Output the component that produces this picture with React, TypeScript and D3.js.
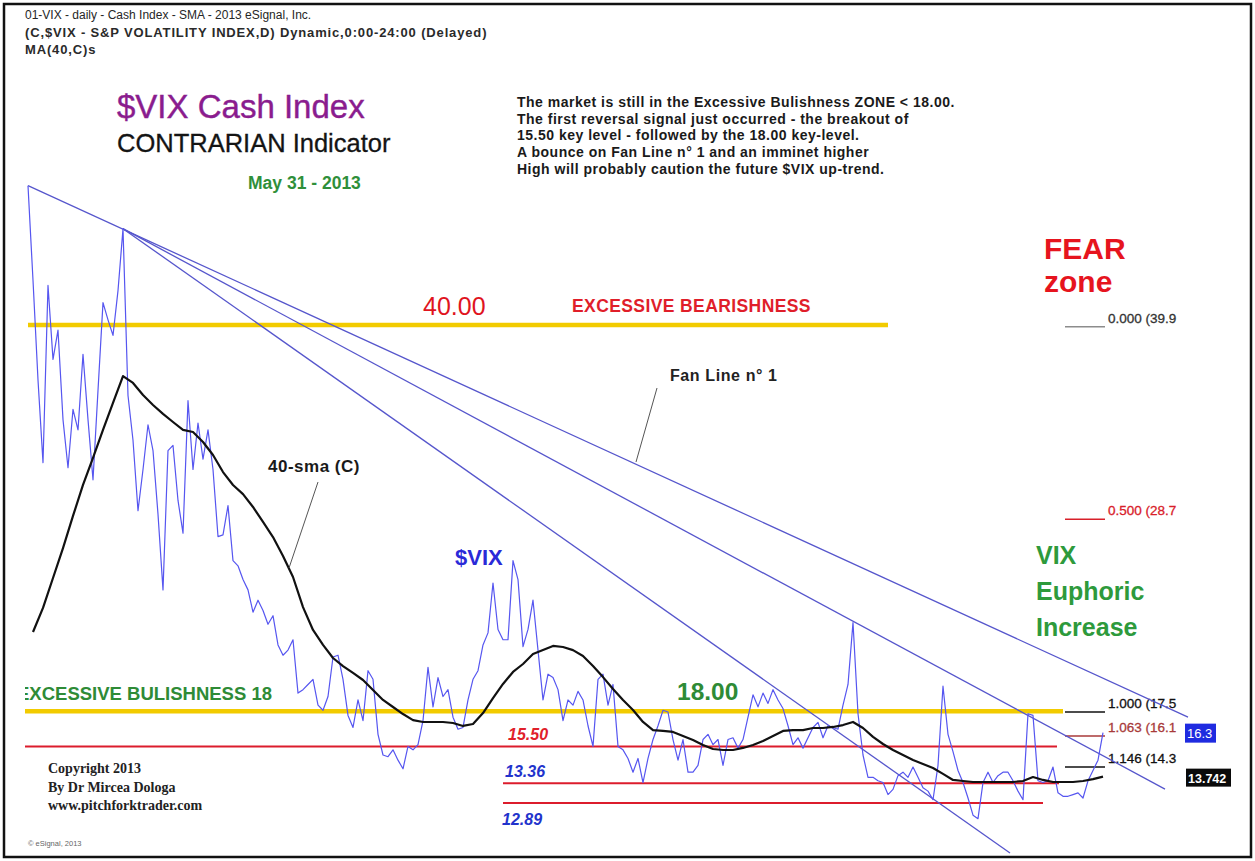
import React from "react";
import * as d3 from "d3";

// ---------- DATA ----------
// $VIX daily close, sampled about every 2 trading days (Aug 2011 -> May 31 2013)
const vixValues: number[] = [
  48.1, 42.6, 36.8, 32.0, 42.3, 38.0, 39.7, 34.5, 31.7, 35.1,
  33.9, 38.3, 34.5, 31.0, 36.2, 41.3, 40.3, 39.4, 42.0, 45.6,
  35.9, 33.3, 29.2, 31.6, 34.2, 32.7, 29.0, 24.6, 32.7, 33.0,
  29.8, 27.9, 35.6, 31.6, 34.3, 32.2, 33.9, 31.6, 27.7, 27.8,
  29.5, 26.3, 26.0, 25.2, 24.6, 23.3, 24.0, 23.4, 22.6, 23.1,
  21.4, 20.8, 21.1, 21.7, 18.6, 18.8, 19.1, 19.4, 17.9, 17.6,
  18.4, 20.7, 20.8, 19.4, 17.3, 16.6, 18.2, 17.0, 19.9, 19.4,
  16.2, 15.0, 14.9, 15.3, 14.7, 14.2, 15.5, 15.3, 15.6, 17.0,
  20.1, 17.8, 19.5, 18.4, 18.8, 17.2, 16.5, 16.6, 18.2, 19.4,
  19.9, 21.4, 22.1, 25.0, 22.3, 21.7, 21.7, 26.3, 25.2, 21.3,
  22.3, 24.0, 21.1, 18.2, 19.7, 19.5, 18.8, 17.0, 18.2, 17.9,
  18.7, 18.2, 16.7, 15.5, 19.4, 19.7, 17.9, 19.1, 15.5, 15.3,
  14.8, 14.0, 14.8, 13.4, 14.8, 15.9, 16.7, 17.6, 17.5, 15.9,
  14.7, 15.9, 14.0, 14.0, 14.4, 15.9, 16.2, 15.6, 15.9, 14.4,
  15.9, 16.0, 15.4, 15.9, 17.2, 18.5, 17.8, 18.6, 18.0, 18.8,
  18.2, 17.7, 16.7, 15.6, 16.0, 15.4, 16.0, 16.6, 16.9, 16.0,
  16.7, 16.6, 16.5, 17.9, 19.1, 22.7, 17.4, 15.0, 13.7, 13.7,
  13.5, 13.4, 12.7, 13.0, 13.8, 14.0, 13.7, 14.3, 13.7, 13.1,
  12.9, 12.4, 14.4, 19.0, 16.2, 15.2, 14.1, 13.4, 12.5, 11.5,
  11.3, 13.4, 14.0, 13.4, 13.8, 14.0, 14.0, 13.5, 12.9, 12.4,
  17.4, 17.3, 13.5, 13.4, 13.5, 14.3, 12.8, 12.6, 12.6, 12.7,
  12.8, 12.5, 13.5, 14.1, 14.7, 16.3,
];

// 40-day SMA, read at every second sample (sample indices 1, 3, 5, ...)
const smaStartIndex = 1;
const smaIndexStep = 2;
const smaValues: number[] = [
  22.15, 23.55, 25.29, 27.03, 28.9, 30.7, 32.27, 33.9, 35.47, 37.03,
  36.63, 35.93, 35.35, 34.83, 34.36, 33.9, 33.78, 33.2, 32.44, 31.45,
  30.7, 30.17, 29.42, 28.55, 27.67, 26.57, 25.35, 23.6, 22.27, 21.4,
  20.64, 20.17, 19.77, 19.36, 18.78, 18.2, 17.79, 17.38, 17.03, 16.92,
  16.92, 16.92, 16.86, 16.69, 16.8, 17.44, 18.31, 19.13, 19.83, 20.29,
  20.87, 21.1, 21.34, 21.28, 21.1, 20.76, 20.17, 19.53, 18.84, 18.2,
  17.62, 16.92, 16.45, 16.4, 16.34, 16.1, 15.87, 15.58, 15.35, 15.29,
  15.29, 15.41, 15.58, 15.81, 16.1, 16.4, 16.45, 16.45, 16.57, 16.57,
  16.63, 16.74, 16.92, 16.57, 16.05, 15.64, 15.29, 15.0, 14.71, 14.48,
  14.24, 13.9, 13.55, 13.49, 13.43, 13.43, 13.43, 13.43, 13.43, 13.49,
  13.72, 13.55, 13.43, 13.43, 13.43, 13.49, 13.6, 13.742,
];

// Fan lines: [sample index, value] of start and end
const fanStarts: [number, number][] = [[0, 48.1], [19, 45.6], [19, 45.6]];
const fanEnds: [number, number][] = [[232, 17.2], [227.4, 13.02], [196.4, 9.3]];

// Horizontal key levels (value, start sample, end sample)
const yellowLevelValues = [40.0, 17.55];
const yellowLevelStart = [0, -0.6];
const yellowLevelEnd = [172, 207];
const redLevelValues = [15.5, 13.36, 12.21];
const redLevelStart = [-0.6, 95, 95];
const redLevelEnd = [205.8, 206.2, 203];

// Fibonacci levels shown at the right
const fibLabels = ["0.000 (39.9", "0.500 (28.7", "1.000 (17.5", "1.063 (16.1", "1.146 (14.3"];
const fibValues = [39.9, 28.7, 17.5, 16.1, 14.3];
const fibColors = ["#8c8c8c", "#d8202a", "#111111", "#a83a3a", "#111111"];
const fibStart = 207.4;
const fibEnd = 215.4;

const lastVix = "16.3";
const lastSma = "13.742";

const headerLines = [
  "01-VIX - daily - Cash Index - SMA - 2013 eSignal, Inc.",
  "(C,$VIX - S&P VOLATILITY INDEX,D) Dynamic,0:00-24:00 (Delayed)",
  "MA(40,C)s",
];
const noteLines = [
  "The market is still in the Excessive Bulishness ZONE < 18.00.",
  "The first reversal signal just occurred - the breakout of",
  "15.50 key level - followed by the 18.00 key-level.",
  "A bounce on Fan Line n\u00b0 1 and an imminet higher",
  "High will probably caution the future $VIX up-trend.",
];
const copyrightLines = ["Copyright 2013", "By Dr Mircea Dologa", "www.pitchforktrader.com"];
const euphoricLines = ["VIX", "Euphoric", "Increase"];

const SANS = "'Liberation Sans', Arial, Helvetica, sans-serif";
const SERIF = "'Liberation Serif', 'Times New Roman', serif";

export default function App() {
  const W = 1255;
  const H = 861;
  const x = d3.scaleLinear().domain([0, vixValues.length - 1]).range([28, 1103]);
  const y = d3.scaleLinear().domain([10, 50]).range([841, 153]);

  const vixPath = d3
    .line<number>()
    .x((_, i) => x(i))
    .y((d) => y(d))(vixValues) as string;
  const smaPath = d3
    .line<number>()
    .x((_, i) => x(smaStartIndex + i * smaIndexStep))
    .y((d) => y(d))(smaValues) as string;

  return (
    <svg
      width={W}
      height={H}
      viewBox={`0 0 ${W} ${H}`}
      style={{ position: "absolute", left: 0, top: 0, background: "#fff", display: "block" }}
    >
      <defs>
        <clipPath id="leftClip">
          <rect x={25} y={0} width={W} height={H} />
        </clipPath>
        <clipPath id="fibClip">
          <rect x={0} y={0} width={1185} height={H} />
        </clipPath>
      </defs>
      <rect x={0} y={0} width={W} height={H} fill="#fff" />

      {/* header */}
      <text x={25} y={19} fontFamily={SANS} fontSize={12} fill="#262626">{headerLines[0]}</text>
      {headerLines.slice(1).map((t, i) => (
        <text key={t} x={25} y={37 + i * 16.5} fontFamily={SANS} fontSize={13} fontWeight="bold" letterSpacing={0.85} fill="#2a2a2a">
          {t}
        </text>
      ))}

      {/* titles */}
      <text x={117} y={118} fontFamily={SANS} fontSize={33} fill="#8a1c8e" stroke="#8a1c8e" strokeWidth={0.4}>$VIX Cash Index</text>
      <text x={117} y={152} fontFamily={SANS} fontSize={25.5} fill="#141414" stroke="#141414" strokeWidth={0.3}>CONTRARIAN Indicator</text>
      <text x={248} y={189} fontFamily={SANS} fontSize={17.5} fontWeight="bold" fill="#2f8f3a">May 31 - 2013</text>

      {noteLines.map((t, i) => (
        <text key={t} x={517} y={107 + i * 16.7} fontFamily={SANS} fontSize={14} fontWeight="bold" letterSpacing={0.5} fill="#1a1a1a">
          {t}
        </text>
      ))}

      <text x={1044} y={259} fontFamily={SANS} fontSize={30} fontWeight="bold" fill="#e6141e">FEAR</text>
      <text x={1044} y={292} fontFamily={SANS} fontSize={30} fontWeight="bold" fill="#e6141e">zone</text>

      {/* horizontal levels */}
      {yellowLevelValues.map((v, i) => (
        <line
          key={"yl" + i}
          x1={x(yellowLevelStart[i])}
          x2={x(yellowLevelEnd[i])}
          y1={y(v)}
          y2={y(v)}
          stroke="#f2cb00"
          strokeWidth={4.5}
          clipPath="url(#leftClip)"
        />
      ))}
      {redLevelValues.map((v, i) => (
        <line
          key={"rl" + i}
          x1={x(redLevelStart[i])}
          x2={x(redLevelEnd[i])}
          y1={y(v)}
          y2={y(v)}
          stroke="#dc1c2c"
          strokeWidth={2}
          clipPath="url(#leftClip)"
        />
      ))}

      {/* fib levels */}
      {fibValues.map((v, i) => (
        <g key={"fib" + i}>
          <line x1={x(fibStart)} x2={x(fibEnd)} y1={y(v)} y2={y(v)} stroke={fibColors[i]} strokeWidth={1.5} />
          <text
            x={1108}
            y={y(v) - 4}
            fontFamily={SANS}
            fontSize={13.5}
            fill={fibColors[i] === "#8c8c8c" ? "#333" : fibColors[i]}
            stroke={fibColors[i] === "#8c8c8c" ? "#333" : fibColors[i]}
            strokeWidth={0.3}
            clipPath="url(#fibClip)"
          >
            {fibLabels[i]}
          </text>
        </g>
      ))}

      {/* fan lines */}
      {fanStarts.map((s, i) => (
        <line
          key={"fan" + i}
          x1={x(s[0])}
          y1={y(s[1])}
          x2={x(fanEnds[i][0])}
          y2={y(fanEnds[i][1])}
          stroke="#5656cc"
          strokeWidth={1.3}
        />
      ))}

      {/* series */}
      <path d={vixPath} fill="none" stroke="#5656f0" strokeWidth={1.2} strokeLinejoin="round" />
      <path d={smaPath} fill="none" stroke="#111" strokeWidth={2.2} strokeLinejoin="round" />

      {/* annotations */}
      <text x={423} y={315} fontFamily={SANS} fontSize={25} fill="#e0141e">40.00</text>
      <text x={572} y={312} fontFamily={SANS} fontSize={17.5} fontWeight="bold" letterSpacing={0.4} fill="#e01e2a">EXCESSIVE BEARISHNESS</text>
      <text x={670} y={381} fontFamily={SANS} fontSize={16} fontWeight="bold" letterSpacing={0.6} fill="#222">Fan Line n° 1</text>
      <line x1={657} y1={388} x2={636} y2={462} stroke="#555" strokeWidth={1} />
      <text x={268} y={472} fontFamily={SANS} fontSize={17} fontWeight="bold" letterSpacing={0.5} fill="#1a1a1a">40-sma (C)</text>
      <line x1={318} y1={482} x2={289} y2={568} stroke="#555" strokeWidth={1} />
      <text x={455} y={565} fontFamily={SANS} fontSize={22} fontWeight="bold" fill="#2a2ad8">$VIX</text>

      {euphoricLines.map((t, i) => (
        <text key={t} x={1036} y={564 + i * 36} fontFamily={SANS} fontSize={25} fontWeight="bold" fill="#2e9a3c">
          {t}
        </text>
      ))}

      <text x={17} y={700} fontFamily={SANS} fontSize={18.5} fontWeight="bold" fill="#2e8b36" clipPath="url(#leftClip)">
        EXCESSIVE BULISHNESS 18
      </text>
      <text x={677} y={700} fontFamily={SANS} fontSize={24.5} fontWeight="bold" fill="#2e8b36">18.00</text>
      <text x={508} y={740} fontFamily={SANS} fontSize={16} fontWeight="bold" fontStyle="italic" fill="#e0202a">15.50</text>
      <text x={505} y={777} fontFamily={SANS} fontSize={16} fontWeight="bold" fontStyle="italic" fill="#2233cc">13.36</text>
      <text x={502} y={825} fontFamily={SANS} fontSize={16} fontWeight="bold" fontStyle="italic" fill="#2233cc">12.89</text>

      {copyrightLines.map((t, i) => (
        <text key={t} x={48} y={773 + i * 18.5} fontFamily={SERIF} fontSize={14} fontWeight="bold" fill="#222">
          {t}
        </text>
      ))}
      <text x={28} y={846} fontFamily={SANS} fontSize={7.5} fill="#666">© eSignal, 2013</text>

      {/* price tags */}
      <rect x={1185} y={y(16.3) - 9} width={31} height={19} fill="#1f2be0" />
      <text x={1187} y={y(16.3) + 5} fontFamily={SANS} fontSize={13} fill="#fff">{lastVix}</text>
      <rect x={1186} y={y(13.742) - 8} width={45} height={18} fill="#0a0a0a" />
      <text x={1188} y={y(13.742) + 6} fontFamily={SANS} fontSize={12.5} fontWeight="bold" fill="#fff">{lastSma}</text>

      {/* frame */}
      <rect x={4} y={4} width={1247} height={853} fill="none" stroke="#111" strokeWidth={2.5} />
    </svg>
  );
}
